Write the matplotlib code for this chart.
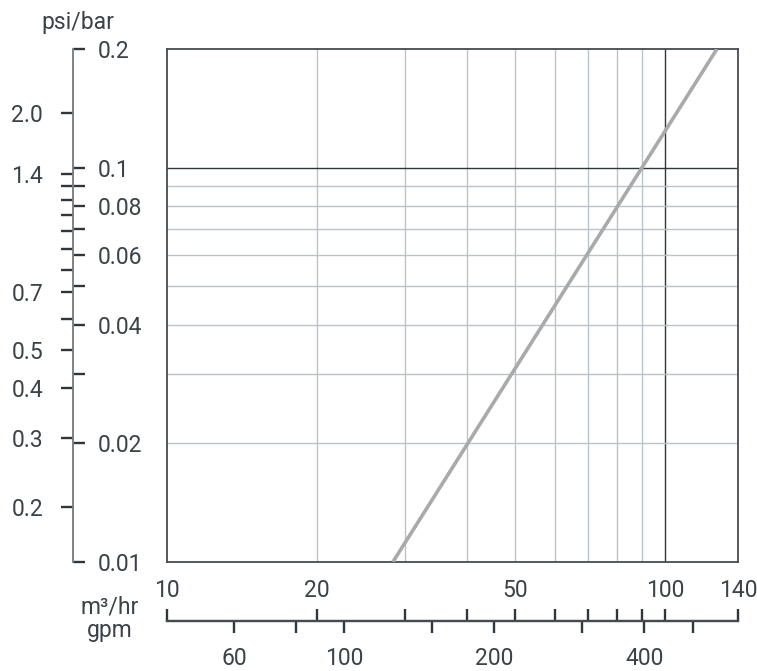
import numpy as np
import matplotlib
matplotlib.use("Agg")
import matplotlib.pyplot as plt
from matplotlib.ticker import NullLocator, NullFormatter

# ── Data ──
flow_m3h = [28.4, 127]      # flow, m3/hr
drop_bar = [0.01, 0.2]      # pressure drop, bar

x_grid = [20, 30, 40, 50, 60, 70, 80, 90]
x_dark = [100]
y_grid = [0.02, 0.03, 0.04, 0.05, 0.06, 0.07, 0.08, 0.09]
y_dark = [0.1]

bar_ticks = [0.01, 0.02, 0.03, 0.04, 0.05, 0.06, 0.07, 0.08, 0.09, 0.1, 0.2]
bar_labels = ["0.01", "0.02", "", "0.04", "", "0.06", "", "0.08", "", "0.1", "0.2"]
psi_ticks = [0.2, 0.3, 0.4, 0.5, 0.6, 0.7, 0.8, 0.9, 1.0, 1.1, 1.2, 1.3, 1.4, 2.0]
psi_labels = ["0.2", "0.3", "0.4", "0.5", "", "0.7", "", "", "", "", "", "", "1.4", "2.0"]
m3h_ticks = [10, 20, 30, 40, 50, 60, 70, 80, 90, 100, 140]
m3h_labels = ["10", "20", "", "", "50", "", "", "", "", "100", "140"]
gpm_ticks = [60, 80, 100, 150, 200, 300, 400, 500]
gpm_labels = ["60", "", "100", "", "200", "", "400", ""]

PSI_PER_BAR = 14.5038
GPM_PER_M3H = 4.40287

TXT = "#3b4248"
DARK = "#2f363c"
GRID = "#b8c3cb"
FS = 16.5

plt.rcParams["font.family"] = ["Roboto", "DejaVu Sans"]

W, H = 757, 671
fig = plt.figure(figsize=(W / 100, H / 100), dpi=100)
L, R, T, B = 167, 738, 49, 562
ax = fig.add_axes([L / W, 1 - B / H, (R - L) / W, (B - T) / H])
ax.set_xscale("log")
ax.set_yscale("log")
ax.set_xlim(10, 140)
ax.set_ylim(0.01, 0.2)
for a in (ax.xaxis, ax.yaxis):
    a.set_major_locator(NullLocator())
    a.set_minor_locator(NullLocator())
for s in ax.spines.values():
    s.set_color("#454b51")
    s.set_linewidth(1.3)

# grid
for xv in x_grid:
    ax.axvline(xv, color=GRID, lw=1.0, zorder=1)
for xv in x_dark:
    ax.axvline(xv, color=DARK, lw=1.0, zorder=1)
for yv in y_grid:
    ax.axhline(yv, color=GRID, lw=1.0, zorder=1)
for yv in y_dark:
    ax.axhline(yv, color=DARK, lw=1.0, zorder=1)

# curve
ax.plot(flow_m3h, drop_bar, color="#aaaaaa", lw=2.6, solid_capstyle="butt", zorder=3)

TL = 8.6   # tick length, pt
TW = 1.7

# ── left scales: psi (outside) and bar (inside) on one spine ──
yloc = (73 - L) / (R - L)
sec_bar = ax.secondary_yaxis(yloc)
sec_bar.set_alignment("right")
sec_bar.set_yticks(bar_ticks, bar_labels)
sec_psi = ax.secondary_yaxis(yloc, functions=(lambda b: b * PSI_PER_BAR,
                                              lambda p: p / PSI_PER_BAR))
sec_psi.set_alignment("left")
sec_psi.set_yticks(psi_ticks, psi_labels)
for sec, pad in ((sec_bar, 9.5), (sec_psi, 13)):
    sec.yaxis.set_minor_locator(NullLocator())
    sec.yaxis.set_minor_formatter(NullFormatter())
    sec.tick_params(length=TL, width=TW, color=DARK, labelcolor=TXT,
                    labelsize=FS, pad=pad)
    for s in sec.spines.values():
        s.set_color("#7d8287")
        s.set_linewidth(1.2)

# ── bottom scales: m3/hr (above) and gpm (below) ──
xloc = -(621 - B) / (B - T)
sec_m3 = ax.secondary_xaxis(xloc)
sec_m3.set_alignment("top")
sec_m3.set_xticks(m3h_ticks, m3h_labels)
sec_gpm = ax.secondary_xaxis(xloc, functions=(lambda q: q * GPM_PER_M3H,
                                              lambda g: g / GPM_PER_M3H))
sec_gpm.set_alignment("bottom")
sec_gpm.set_xticks(gpm_ticks, gpm_labels)
for sec, pad in ((sec_m3, 5), (sec_gpm, 10)):
    sec.xaxis.set_minor_locator(NullLocator())
    sec.xaxis.set_minor_formatter(NullFormatter())
    sec.tick_params(length=TL, width=TW, color=DARK, labelcolor=TXT,
                    labelsize=FS, pad=pad)
    for s in sec.spines.values():
        s.set_color("#454b51")
        s.set_linewidth(1.6)

# unit labels
fig.text(78 / W, 1 - 22 / H, "psi/bar", ha="center", va="center", fontsize=FS, color=TXT)
fig.text(110 / W, 1 - 607 / H, "m³/hr", ha="center", va="center", fontsize=FS, color=TXT)
fig.text(110 / W, 1 - 631 / H, "gpm", ha="center", va="center", fontsize=FS, color=TXT)

fig.savefig("out.png", dpi=100, facecolor="white")
